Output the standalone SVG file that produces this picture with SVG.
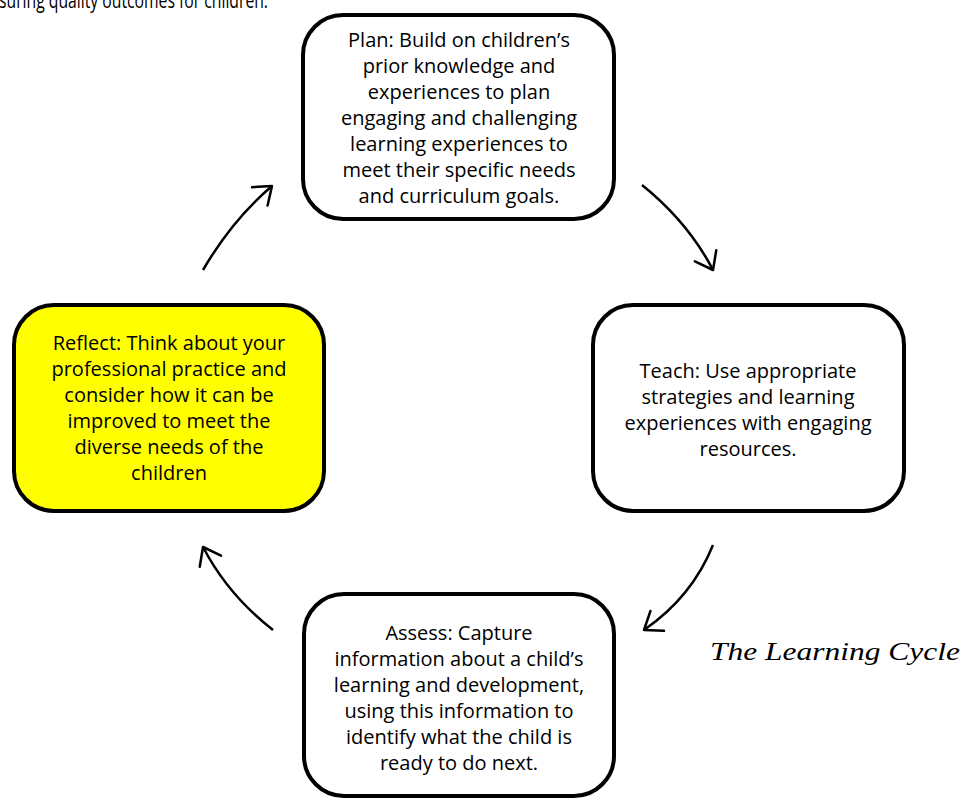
<svg xmlns="http://www.w3.org/2000/svg" width="965" height="799" viewBox="0 0 965 799">
<defs>
<style>
.box{fill:#fff;stroke:#000;stroke-width:4}
.yel{fill:#ffff00}
.t{font-family:"Open Sans","Noto Sans","Liberation Sans",sans-serif;font-size:20px;fill:#000;text-anchor:middle}
.c{fill:none;stroke:#000;stroke-width:2.5}
.title{font-family:"Liberation Serif","Times New Roman",serif;font-style:italic;font-size:25px;fill:#000}
</style>
<marker id="arr" viewBox="-20 -14 24 28" refX="0" refY="0" markerWidth="24" markerHeight="28" markerUnits="userSpaceOnUse" orient="auto">
<path d="M-16,-12 L0,0 L-16,12" fill="none" stroke="#000" stroke-width="2.5" stroke-linecap="round" stroke-linejoin="round"/>
</marker>
</defs>
<rect width="965" height="799" fill="#fff"/>
<text x="-1" y="7.5" font-family="Open Sans,Noto Sans,sans-serif" font-size="21" fill="#000" textLength="269" lengthAdjust="spacingAndGlyphs">suring quality outcomes for children.</text>
<g id="plan">
<rect class="box" x="303" y="15" width="311" height="204" rx="40"/>
<text class="t"><tspan x="459" y="47">Plan:  Build on children’s</tspan><tspan x="459" y="73">prior knowledge and</tspan><tspan x="459" y="99">experiences to plan</tspan><tspan x="459" y="125">engaging and challenging</tspan><tspan x="459" y="151">learning experiences to</tspan><tspan x="459" y="177">meet their specific needs</tspan><tspan x="459" y="203">and curriculum goals.</tspan></text>
</g>
<g id="teach">
<rect class="box" x="593" y="305" width="311" height="206" rx="40"/>
<text class="t"><tspan x="748" y="378">Teach: Use appropriate</tspan><tspan x="748" y="404">strategies and learning</tspan><tspan x="748" y="430">experiences with engaging</tspan><tspan x="748" y="456">resources.</tspan></text>
</g>
<g id="assess">
<rect class="box" x="304" y="594" width="310" height="202" rx="40"/>
<text class="t"><tspan x="459" y="640">Assess: Capture</tspan><tspan x="459" y="666">information about a child’s</tspan><tspan x="459" y="692">learning and development,</tspan><tspan x="459" y="718">using this information to</tspan><tspan x="459" y="744">identify what the child is</tspan><tspan x="459" y="770">ready to do next.</tspan></text>
</g>
<g id="reflect">
<rect class="box yel" x="14" y="305" width="310" height="206" rx="40"/>
<text class="t"><tspan x="169" y="350">Reflect: Think about your</tspan><tspan x="169" y="376">professional practice and</tspan><tspan x="169" y="402">consider how it can be</tspan><tspan x="169" y="428">improved to meet the</tspan><tspan x="169" y="454">diverse needs of the</tspan><tspan x="169" y="480">children</tspan></text>
</g>
<g id="connectors">
<path class="c" d="M203,270 Q232,220 272,186" marker-end="url(#arr)"/>
<path class="c" d="M642,185 Q688,222 713,270" marker-end="url(#arr)"/>
<path class="c" d="M713,545 Q692,597 644,630" marker-end="url(#arr)"/>
<path class="c" d="M273,630 Q228,595 203,547" marker-end="url(#arr)"/>
</g>
<text class="title" x="710" y="660" textLength="250" lengthAdjust="spacingAndGlyphs">The Learning Cycle</text>
</svg>
